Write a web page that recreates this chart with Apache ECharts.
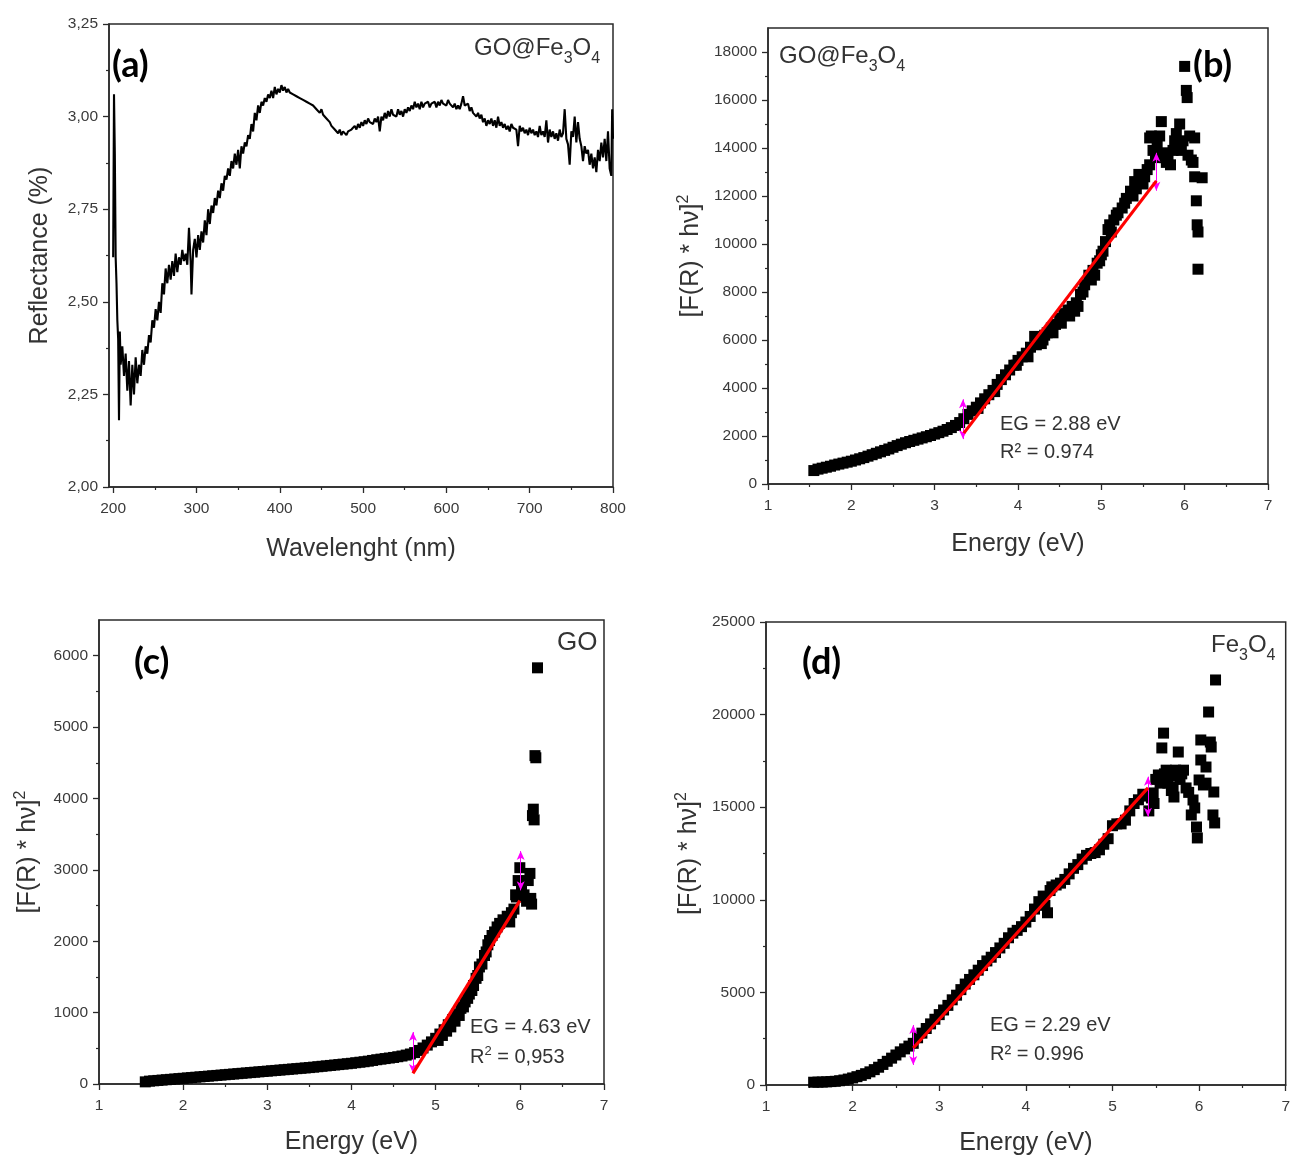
<!DOCTYPE html>
<html><head><meta charset="utf-8">
<script src="https://cdn.jsdelivr.net/npm/echarts@6/dist/echarts.min.js"></script>
<style>html,body{margin:0;padding:0;background:#fff}#c{width:1293px;height:1160px}</style>
</head><body><div id="c"></div>
<script>
// ---------- DATA ----------
// (a) Reflectance spectrum: [wavelength nm, reflectance %]
const spectrumA = [
[200,2.62],[201,3.06],[202,2.90],[203,2.62],[204,2.55],[205,2.45],[206,2.40],[207,2.18],[208,2.42],[209,2.33],
[211,2.38],[213,2.30],[215,2.36],[217,2.26],[219,2.34],[221,2.22],[223,2.33],[225,2.25],[227,2.35],[229,2.28],
[231,2.33],[233,2.30],[235,2.37],[237,2.33],[239,2.38],[241,2.36],[243,2.41],[245,2.39],[247,2.45],[249,2.43],
[251,2.48],[253,2.45],[255,2.50],[257,2.47],[259,2.55],[261,2.52],[263,2.59],[265,2.55],[267,2.60],[269,2.56],
[271,2.61],[273,2.57],[275,2.63],[277,2.58],[279,2.62],[281,2.60],[283,2.64],[285,2.61],[287,2.63],[289,2.60],
[291,2.70],[293,2.61],[294,2.52],[295,2.52],[296,2.64],[298,2.67],[300,2.62],[302,2.68],[304,2.64],[306,2.69],
[308,2.66],[310,2.72],[312,2.68],[314,2.75],[316,2.71],[318,2.76],[320,2.74],[322,2.78],[324,2.76],[326,2.80],
[328,2.78],[330,2.82],[332,2.80],[334,2.84],[336,2.83],[338,2.86],[340,2.84],[342,2.88],[344,2.86],[346,2.90],
[348,2.87],[350,2.91],[352,2.86],[354,2.92],[356,2.90],[358,2.93],[360,2.92],[362,2.95],[364,2.94],[366,2.98],
[368,2.96],[370,3.01],[372,2.99],[374,3.03],[376,3.01],[378,3.04],[380,3.03],[382,3.05],[384,3.04],[386,3.06],
[388,3.05],[390,3.07],[392,3.05],[394,3.08],[396,3.06],[398,3.075],[400,3.065],[402,3.085],[404,3.07],[406,3.08],
[408,3.065],[410,3.075],[412,3.065],[414,3.07],[416,3.06],[418,3.065],[420,3.055],[422,3.06],[424,3.05],[426,3.055],
[428,3.045],[430,3.05],[432,3.04],[434,3.045],[436,3.035],[438,3.04],[440,3.03],[442,3.035],[444,3.02],[446,3.025],
[448,3.01],[450,3.02],[452,3.005],[454,3.01],[456,2.995],[458,3.00],[460,2.985],[462,2.975],[464,2.98],[466,2.965],
[468,2.97],[470,2.955],[472,2.965],[474,2.95],[476,2.96],[478,2.955],[480,2.95],[482,2.96],[484,2.955],[486,2.965],
[488,2.96],[490,2.975],[492,2.965],[494,2.98],[496,2.97],[498,2.985],[500,2.975],[502,2.99],[504,2.98],[506,2.995],
[508,2.985],[510,2.99],[512,2.98],[514,2.995],[516,2.985],[518,3.00],[520,2.96],[522,3.00],[524,2.99],[526,3.01],
[528,2.995],[530,3.015],[532,3.00],[534,3.02],[536,3.005],[538,3.01],[540,3.00],[542,3.02],[544,3.005],[546,3.015],
[548,3.00],[550,3.02],[552,3.01],[554,3.025],[556,3.015],[558,3.03],[560,3.02],[562,3.04],[564,3.025],[566,3.035],
[568,3.02],[570,3.04],[572,3.025],[574,3.035],[576,3.03],[578,3.04],[580,3.025],[582,3.035],[584,3.03],[586,3.04],
[588,3.025],[590,3.04],[592,3.03],[594,3.045],[596,3.035],[598,3.04],[600,3.03],[602,3.045],[604,3.035],[606,3.04],
[608,3.025],[610,3.035],[612,3.02],[614,3.03],[616,3.02],[618,3.035],[620,3.055],[622,3.03],[624,3.025],[626,3.035],
[628,3.015],[630,3.025],[632,3.01],[634,3.015],[636,3.00],[638,3.01],[640,2.995],[642,3.005],[644,2.985],[646,2.995],
[648,2.975],[650,2.99],[652,2.98],[654,2.995],[656,2.975],[658,2.99],[660,2.97],[662,3.00],[664,2.975],[666,2.985],
[668,2.97],[670,2.98],[672,2.965],[674,2.975],[676,2.96],[678,2.98],[680,2.97],[682,2.975],[684,2.965],[686,2.92],
[688,2.975],[690,2.96],[692,2.97],[694,2.955],[696,2.965],[698,2.95],[700,2.97],[702,2.955],[704,2.965],[706,2.95],
[708,2.96],[710,2.945],[712,2.975],[714,2.95],[716,2.96],[718,2.945],[720,2.99],[722,2.93],[724,2.965],[726,2.945],
[728,2.96],[730,2.94],[732,2.955],[734,2.935],[736,2.965],[738,2.945],[740,2.955],[742,3.02],[744,2.94],[746,2.925],
[748,2.87],[750,2.96],[752,2.945],[754,3.00],[756,2.93],[758,2.985],[760,2.94],[762,2.92],[764,2.88],[766,2.92],
[768,2.90],[770,2.91],[772,2.87],[774,2.90],[776,2.86],[778,2.89],[780,2.85],[782,2.91],[784,2.88],[786,2.93],
[788,2.89],[790,2.94],[792,2.88],[794,2.96],[796,2.86],[798,2.84],[799,3.02],[800,2.94]
];

// (b) GO@Fe3O4 Tauc plot points: [energy eV, (F(R)*hv)^2]
const pointsB = [
[1.55,560],[1.60,620],[1.65,660],[1.70,700],[1.75,740],[1.80,790],[1.85,830],[1.90,870],[1.95,910],[2.00,950],
[2.05,1000],[2.10,1050],[2.15,1100],[2.20,1160],[2.25,1220],[2.30,1280],[2.35,1340],[2.40,1400],[2.45,1460],[2.50,1530],
[2.55,1600],[2.60,1660],[2.65,1720],[2.70,1770],[2.75,1820],[2.80,1870],[2.85,1920],[2.90,1970],[2.95,2020],[3.00,2080],
[3.05,2140],[3.10,2200],[3.15,2270],[3.20,2350],[3.25,2440],[3.30,2560],[3.35,2720],[3.40,2900],[3.45,3050],[3.50,3200],
[3.52,3150],[3.55,3380],[3.60,3550],[3.65,3720],[3.70,3900],[3.72,3850],[3.75,4150],[3.80,4350],[3.85,4550],[3.90,4750],
[3.95,4950],[3.98,4950],[4.00,5150],[4.05,5300],[4.10,5450],[4.12,5300],[4.15,5700],[4.20,6150],[4.22,5800],[4.25,5900],
[4.28,5850],[4.30,6000],[4.32,6200],[4.35,6300],[4.40,6500],[4.42,6300],[4.45,6650],[4.50,6900],[4.52,6700],[4.55,7100],
[4.60,7250],[4.62,7000],[4.65,7400],[4.68,7200],[4.70,7550],[4.72,7400],[4.75,7900],[4.78,8000],[4.80,8300],[4.85,8700],
[4.88,8500],[4.90,8900],[4.92,8700],[4.95,9200],[4.98,9300],[5.00,9550],[5.02,9700],[5.05,10100],[5.08,10600],[5.10,10800],
[5.12,10500],[5.15,11000],[5.18,11200],[5.20,11300],[5.25,11500],[5.28,11700],[5.30,11900],[5.35,12200],[5.38,12000],[5.40,12600],
[5.42,12300],[5.45,12900],[5.48,12700],[5.50,12500],[5.52,12800],[5.55,13100],[5.58,13300],[5.58,14420],[5.60,14500],[5.62,13900],
[5.65,13600],[5.67,14200],[5.70,14500],[5.72,15100],[5.74,13800],[5.76,13600],[5.78,13400],[5.80,13700],[5.83,13300],[5.86,13900],
[5.88,14300],[5.90,14600],[5.92,14100],[5.94,15000],[5.96,13900],[5.98,14300],[6.00,17400],[6.02,16400],[6.03,16100],[6.04,13700],
[6.06,14500],[6.08,13500],[6.10,13400],[6.12,14420],[6.12,12800],[6.14,11800],[6.15,10800],[6.16,10500],[6.16,8950],[6.21,12760]
];
const fitB = [[3.35,2120],[5.66,12630]];
const arrowsB = [[3.34,1870,3530],[5.66,12220,13800]];

// (c) GO Tauc plot points
const pointsC = [
[1.55,30],[1.60,40],[1.65,45],[1.70,50],[1.75,55],[1.80,60],[1.85,65],[1.90,70],[1.95,75],[2.00,80],
[2.05,85],[2.10,90],[2.15,95],[2.20,100],[2.25,105],[2.30,110],[2.35,115],[2.40,120],[2.45,125],[2.50,130],
[2.55,135],[2.60,140],[2.65,145],[2.70,150],[2.75,155],[2.80,160],[2.85,165],[2.90,170],[2.95,175],[3.00,180],
[3.05,185],[3.10,190],[3.15,195],[3.20,200],[3.25,205],[3.30,210],[3.35,215],[3.40,220],[3.45,225],[3.50,230],
[3.55,236],[3.60,242],[3.65,248],[3.70,254],[3.75,260],[3.80,266],[3.85,272],[3.90,278],[3.95,284],[4.00,290],
[4.05,298],[4.10,305],[4.15,312],[4.20,320],[4.25,330],[4.30,340],[4.35,348],[4.40,356],[4.45,364],[4.50,372],
[4.55,382],[4.60,392],[4.65,405],[4.70,420],[4.75,440],[4.80,470],[4.85,505],[4.90,545],[4.95,590],[5.00,640],
[5.03,610],[5.05,700],[5.08,680],[5.10,760],[5.13,740],[5.15,830],[5.18,800],[5.20,900],[5.23,880],[5.25,980],
[5.28,960],[5.30,1060],[5.33,1080],[5.35,1150],[5.38,1200],[5.40,1260],[5.43,1310],[5.45,1380],[5.48,1480],[5.50,1520],
[5.52,1640],[5.55,1680],[5.58,1800],[5.60,1850],[5.62,1950],[5.64,2010],[5.67,2080],[5.70,2130],[5.73,2200],[5.76,2250],
[5.80,2300],[5.85,2350],[5.88,2270],[5.90,2400],[5.93,2450],[5.95,2650],[5.96,2620],[5.98,2850],[6.00,3030],[6.02,2700],
[6.05,2650],[6.08,2560],[6.10,2850],[6.12,2950],[6.13,2600],[6.14,2520],[6.15,3760],[6.16,3850],[6.17,3700],[6.18,4600],
[6.19,4570],[6.21,5830]
];
const fitC = [[4.73,150],[6.00,2570]];
const arrowsC = [[4.73,154,727],[6.01,2713,3263]];

// (d) Fe3O4 Tauc plot points
const pointsD = [
[1.55,150],[1.60,155],[1.65,160],[1.70,170],[1.75,185],[1.80,200],[1.85,230],[1.90,270],[1.95,320],[2.00,380],
[2.05,450],[2.10,520],[2.15,610],[2.20,710],[2.25,830],[2.30,960],[2.35,1110],[2.40,1280],[2.45,1450],[2.50,1620],
[2.55,1790],[2.60,1950],[2.65,2100],[2.70,2250],[2.75,2550],[2.80,2800],[2.85,3050],[2.90,3300],[2.95,3550],[3.00,3800],
[3.05,4050],[3.10,4300],[3.15,4600],[3.20,4850],[3.25,5150],[3.30,5450],[3.35,5700],[3.40,5950],[3.45,6200],[3.50,6450],
[3.55,6700],[3.60,6900],[3.65,7150],[3.70,7400],[3.75,7650],[3.80,7950],[3.85,8200],[3.90,8350],[3.95,8550],[4.00,8800],
[4.05,9100],[4.10,9500],[4.15,9900],[4.20,10200],[4.22,9700],[4.25,9300],[4.28,10500],[4.30,10700],[4.35,10800],[4.40,10900],
[4.45,11100],[4.50,11400],[4.55,11700],[4.60,11900],[4.65,12200],[4.70,12400],[4.75,12500],[4.80,12550],[4.85,12700],[4.90,13000],
[4.95,13300],[5.00,14000],[5.05,14100],[5.10,14100],[5.15,14300],[5.20,14800],[5.25,15200],[5.30,15400],[5.35,15700],[5.40,15600],
[5.42,14800],[5.45,15500],[5.47,15770],[5.48,15200],[5.50,16500],[5.53,16740],[5.55,16300],[5.57,18200],[5.59,19000],[5.60,16800],
[5.62,17000],[5.64,16300],[5.66,16700],[5.68,15900],[5.70,16090],[5.71,15550],[5.73,17000],[5.76,17980],[5.78,16500],[5.80,16800],
[5.82,17000],[5.85,16040],[5.88,15800],[5.91,14580],[5.93,15390],[5.95,14960],[5.97,13930],[5.98,13340],[6.00,16470],[6.02,17550],
[6.02,18630],[6.05,16200],[6.08,17170],[6.08,16300],[6.11,20140],[6.13,18520],[6.14,18250],[6.16,14580],[6.17,15820],[6.18,14150],
[6.19,21870]
];
const fitD = [[2.70,2000],[5.41,16040]];
const arrowsD = [[2.70,1080,3240],[5.41,14490,16650]];

// tick values
const ticksAx = [200,300,400,500,600,700,800];
const ticksAxMinor = [250,350,450,550,650,750];
const ticksAy = [2.00,2.25,2.50,2.75,3.00,3.25];
const ticksAyMinor = [2.125,2.375,2.625,2.875,3.125];
const ticksE = [1,2,3,4,5,6,7];
const ticksEMinor = [1.5,2.5,3.5,4.5,5.5,6.5];
const ticksBy = [0,2000,4000,6000,8000,10000,12000,14000,16000,18000];
const ticksByMinor = [1000,3000,5000,7000,9000,11000,13000,15000,17000];
const ticksCy = [0,1000,2000,3000,4000,5000,6000];
const ticksCyMinor = [500,1500,2500,3500,4500,5500];
const ticksDy = [0,5000,10000,15000,20000,25000];
const ticksDyMinor = [2500,7500,12500,17500,22500];

// ---------- CHART ----------
const FONT = 'Liberation Sans';
const AX = '#2a2a2a';
const chart = echarts.init(document.getElementById('c'), null, {renderer:'canvas'});

const grids = [
  {left:109, top:24, width:504, height:463},
  {left:768, top:28, width:500, height:456},
  {left:99,  top:620, width:505, height:464},
  {left:766, top:622, width:524, height:463}
].map(g => Object.assign(g, {show:true, borderColor:AX, borderWidth:1.5, backgroundColor:'transparent'}));

const supName = '{t|[F(R) * hν]}{p|2}';
const nameRich = {
  t:{fontSize:25, fontFamily:FONT, color:'#333', lineHeight:30, verticalAlign:'middle'},
  p:{fontSize:16, fontFamily:FONT, color:'#333', lineHeight:16, verticalAlign:'top'}
};

function axes(dim, gi, min, max, major, minor, fmt, name, gap) {
  const main = {
    type:'value', gridIndex:gi, min:min, max:max,
    position: dim==='x' ? 'bottom' : 'left',
    axisLine:{show:true, onZero:false, lineStyle:{color:AX, width:1.5}},
    axisTick:{show:true, customValues:major, length:6, lineStyle:{color:AX, width:1.3}},
    axisLabel:{show:true, customValues:major, formatter:fmt, color:'#3a3a3a', fontSize:15.5, fontFamily:FONT,
               margin: dim==='x' ? 14 : 11},
    splitLine:{show:false},
    name:name, nameLocation:'middle', nameGap:gap,
    nameTextStyle:{fontSize:25, fontFamily:FONT, color:'#333', rich:nameRich}
  };
  const mi = {
    type:'value', gridIndex:gi, min:min, max:max,
    position: dim==='x' ? 'bottom' : 'left',
    axisLine:{show:false, onZero:false},
    axisTick:{show:true, customValues:minor, length:3, lineStyle:{color:AX, width:1.2}},
    axisLabel:{show:false},
    splitLine:{show:false}
  };
  return [main, mi];
}
const fmtInt = v => String(v);
const fmtComma = v => v.toFixed(2).replace('.', ',');

const xAxis = [].concat(
  axes('x',0,195,800,ticksAx,ticksAxMinor,fmtInt,'Wavelenght (nm)',50),
  axes('x',1,1,7,ticksE,ticksEMinor,fmtInt,'Energy (eV)',48),
  axes('x',2,1,7,ticksE,ticksEMinor,fmtInt,'Energy (eV)',46),
  axes('x',3,1,7,ticksE,ticksEMinor,fmtInt,'Energy (eV)',46)
);
const yAxis = [].concat(
  axes('y',0,2,3.25,ticksAy,ticksAyMinor,fmtComma,'Reflectance (%)',56),
  axes('y',1,0,19000,ticksBy,ticksByMinor,fmtInt,supName,62),
  axes('y',2,0,6500,ticksCy,ticksCyMinor,fmtInt,supName,56),
  axes('y',3,0,25000,ticksDy,ticksDyMinor,fmtInt,supName,62)
);

function scatter(i, pts) {
  return {type:'scatter', xAxisIndex:2*i, yAxisIndex:2*i, data:pts, symbol:'rect', symbolSize:11,
    itemStyle:{color:'#000', opacity:1}, silent:true, z:2};
}
function fit(i, line, arrows) {
  return {type:'line', xAxisIndex:2*i, yAxisIndex:2*i, data:line, symbol:'none', silent:true, z:5,
    lineStyle:{color:'#ff0000', width:3.2},
    markLine:{silent:true, symbol:['arrow','arrow'], symbolSize:[6,9], label:{show:false}, animation:false,
      lineStyle:{color:'#ff00ff', width:1, type:'solid'},
      data: arrows.map(a => [{coord:[a[0],a[1]]},{coord:[a[0],a[2]]}])}
  };
}

const series = [
  {type:'line', xAxisIndex:0, yAxisIndex:0, data:spectrumA, symbol:'none', silent:true,
   lineStyle:{color:'#000', width:2.1}},
  scatter(1, pointsB), fit(1, fitB, arrowsB),
  scatter(2, pointsC), fit(2, fitC, arrowsC),
  scatter(3, pointsD), fit(3, fitD, arrowsD)
];

const subRich = {
  n:{fontSize:24, fontFamily:FONT, color:'#333', lineHeight:26, verticalAlign:'top'},
  s:{fontSize:16, fontFamily:FONT, color:'#333', lineHeight:16, padding:[15,0,0,0], verticalAlign:'top'}
};
const supRich = {
  n:{fontSize:20, fontFamily:FONT, color:'#333', lineHeight:24, verticalAlign:'middle'},
  p:{fontSize:13, fontFamily:FONT, color:'#333', lineHeight:13, verticalAlign:'top'}
};
function txt(x, y, text, opt) {
  return {type:'text', x:x, y:y, silent:true, z:50, style:Object.assign({text:text, fill:'#333', fontFamily:FONT, fontSize:20, verticalAlign:'middle'}, opt||{})};
}
function tag(x, y, t) {
  return txt(x, y, t, {fontFamily:'Lato', fontWeight:'bold', fontSize:36, fill:'#000'});
}
const graphic = [
  tag(112, 65, '(a)'), tag(1193, 65, '(b)'), tag(134, 662, '(c)'), tag(802, 662, '(d)'),
  txt(474, 36, '{n|GO@Fe}{s|3}{n|O}{s|4}', {rich:subRich, verticalAlign:'top'}),
  txt(779, 44, '{n|GO@Fe}{s|3}{n|O}{s|4}', {rich:subRich, verticalAlign:'top'}),
  txt(1211, 633, '{n|Fe}{s|3}{n|O}{s|4}', {rich:subRich, verticalAlign:'top'}),
  txt(557, 643, 'GO', {fontSize:26}),
  txt(1000, 424, 'EG = 2.88 eV'), txt(1000, 452, 'R² = 0.974'),
  txt(470, 1027, 'EG = 4.63 eV'), txt(470, 1057, '{n|R}{p|2}{n| = 0,953}', {rich:supRich}),
  txt(990, 1025, 'EG = 2.29 eV'), txt(990, 1054, 'R² = 0.996')
];

chart.setOption({
  animation:false,
  backgroundColor:'#fff',
  grid:grids, xAxis:xAxis, yAxis:yAxis, series:series, graphic:graphic
});
</script>
</body></html>
